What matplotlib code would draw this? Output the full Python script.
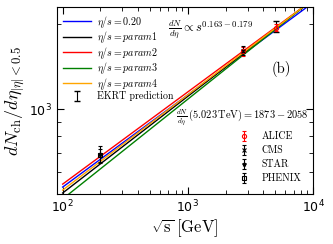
import matplotlib
matplotlib.use("Agg")
import matplotlib.pyplot as plt
from matplotlib.ticker import NullFormatter

plt.rcParams['mathtext.fontset'] = 'cm'

# curve endpoints (sqrt(s) in GeV, dN/deta)
x_ends = [100, 10000]
line_labels = [r'$\eta/s = 0.20$', r'$\eta/s = param1$', r'$\eta/s = param2$',
               r'$\eta/s = param3$', r'$\eta/s = param4$']
line_colors = ['blue', 'black', 'red', 'green', 'orange']
y_ends = [[529, 2385], [504, 2446], [542, 2443], [480, 2450], [516, 2447]]

# data
alice_x = [2760, 5020]; alice_y = [1601, 1943]; alice_e = [60, 54]
cms_x = [2760]; cms_y = [1612]; cms_e = [55]
star_x = [200]; star_y = [691]; star_e = [49]
phenix_x = [200]; phenix_y = [687]; phenix_e = [37]
ekrt_x = [5020]; ekrt_y = [1965.5]; ekrt_e = [92.5]

fig = plt.figure(figsize=(3.33, 2.44), dpi=100)
ax = fig.add_axes([0.171, 0.205, 0.769, 0.766])

handles = []
for lab, c, ys in zip(line_labels, line_colors, y_ends):
    h, = ax.plot(x_ends, ys, color=c, lw=1.0, label=lab)
    handles.append(h)

ek = ax.errorbar(ekrt_x, ekrt_y, yerr=ekrt_e, fmt='none', ecolor='black',
                 elinewidth=0.8, capsize=2, label='EKRT prediction')
handles.append(ek)

d1 = ax.errorbar(alice_x, alice_y, yerr=alice_e, fmt='o', color='red', mfc='none',
                 ms=3, elinewidth=0.8, capsize=1.5, mew=0.8, label='ALICE')
d2 = ax.errorbar(cms_x, cms_y, yerr=cms_e, fmt='x', color='black',
                 ms=3, elinewidth=0.8, capsize=1.5, mew=0.8, label='CMS')
d3 = ax.errorbar(star_x, star_y, yerr=star_e, fmt='*', color='black',
                 ms=3, elinewidth=0.8, capsize=1.5, mew=0.8, label='STAR')
d4 = ax.errorbar(phenix_x, phenix_y, yerr=phenix_e, fmt='s', color='black', mfc='none',
                 ms=3, elinewidth=0.8, capsize=1.5, mew=0.8, label='PHENIX')

ax.set_xscale('log')
ax.set_yscale('log')
ax.set_xlim(90, 10000)
ax.set_ylim(500, 2300)

ax.tick_params(which='both', direction='in', top=True, right=True, labelsize=9)
ax.tick_params(which='major', length=5)
ax.tick_params(which='minor', length=3)
ax.yaxis.set_minor_formatter(NullFormatter())

leg1 = ax.legend(handles=handles, loc='upper left', frameon=False,
                 handlelength=2.8, handletextpad=0.6, labelspacing=-0.05,
                 borderaxespad=0.3, borderpad=0.35,
                 prop={'family': 'cmr10', 'size': 7.2})
ax.add_artist(leg1)
ax.legend(handles=[d1, d2, d3, d4], loc='lower right', frameon=False,
          prop={'family': 'cmr10', 'size': 7.2}, handlelength=1.5, handletextpad=1.0,
          labelspacing=0.45, bbox_to_anchor=(0.99, 0.01))

ax.text(0.435, 0.885, r'$\frac{dN}{d\eta}\propto s^{0.163-0.179}$', transform=ax.transAxes,
        fontsize=9, ha='left', va='center')
ax.text(0.875, 0.67, '(b)', transform=ax.transAxes, fontsize=10.5, ha='center', va='center',
        family='cmr10')
ax.text(0.465, 0.41, r'$\frac{dN}{d\eta}\,(5.023\,\mathrm{TeV})=1873-2058$',
        transform=ax.transAxes, fontsize=7.5, ha='left', va='center')

ax.set_xlabel(r'$\sqrt{\rm s}\;[\mathrm{GeV}]$', fontsize=12, labelpad=1)
ax.set_ylabel(r'$dN_{\rm ch}/d\eta_{|\eta|<0.5}$', fontsize=13, labelpad=2)

fig.savefig('out.png', dpi=100)
